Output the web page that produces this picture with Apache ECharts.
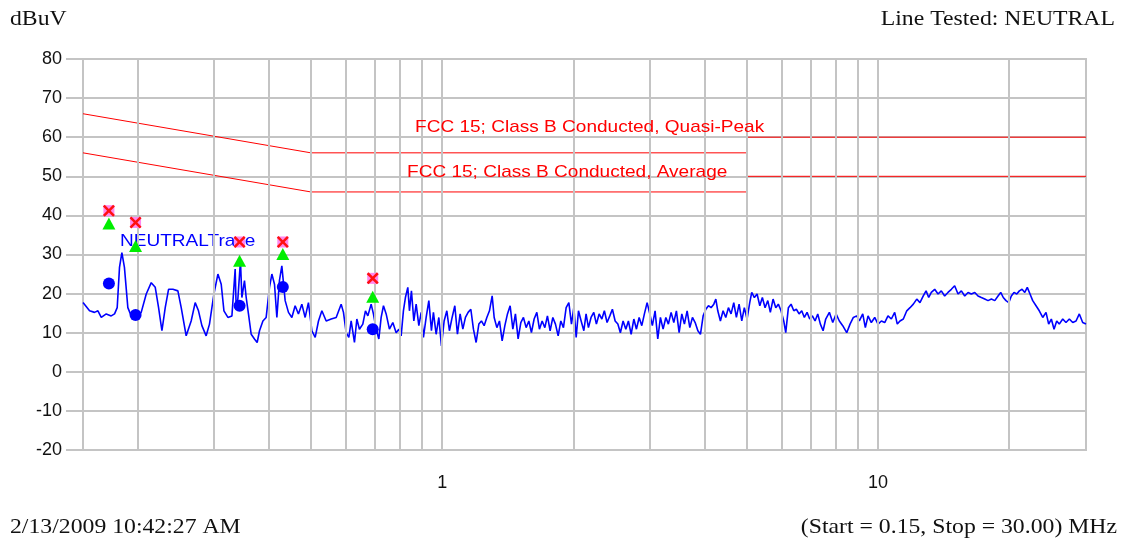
<!DOCTYPE html>
<html>
<head>
<meta charset="utf-8">
<title>Conducted Emissions - NEUTRAL</title>
<script src="https://cdn.jsdelivr.net/npm/echarts@6.0.0/dist/echarts.min.js"></script>
<style>
  html, body { margin: 0; padding: 0; background: #fff; }
  #chart { width: 1123px; height: 540px; }
</style>
</head>
<body>
<div id="chart"></div>
<script>
// scan trace, frequency in MHz and level in dBuV
var traceMHz = [
  0.150, 0.1553, 0.1594, 0.1623, 0.1652, 0.1696, 0.1741, 0.1772, 0.1797, 0.1819,
  0.1842, 0.1867, 0.1901, 0.1935, 0.1987, 0.2040, 0.2095, 0.2151, 0.2197, 0.2236,
  0.2276, 0.2316, 0.2357, 0.2412, 0.2476, 0.2520, 0.2587, 0.2656, 0.2713, 0.2761,
  0.2811, 0.2875, 0.2926, 0.2995, 0.3059, 0.3113, 0.3158, 0.3225, 0.3294, 0.3351,
  0.3369, 0.3399, 0.3446, 0.3472, 0.3520, 0.3552, 0.3595, 0.3647, 0.3711, 0.3764,
  0.3811, 0.3880, 0.3947, 0.4017, 0.4068, 0.4125, 0.4177, 0.4234, 0.4288, 0.4364,
  0.4441, 0.4521, 0.4600, 0.4681, 0.4766, 0.4850, 0.4935, 0.5025, 0.5114, 0.5204,
  0.5298, 0.5420, 0.5565, 0.5714, 0.5866, 0.5938, 0.6023, 0.6109, 0.6184, 0.6293,
  0.6373, 0.6460, 0.6577, 0.6669, 0.6754, 0.6873, 0.6956, 0.7057, 0.7158, 0.7246,
  0.7335, 0.7440, 0.7570, 0.7707, 0.7843, 0.7956, 0.8053, 0.8150, 0.8237, 0.8342,
  0.8414, 0.8503, 0.8611, 0.8718, 0.8842, 0.8952, 0.9060, 0.9190, 0.9322, 0.9451,
  0.9550, 0.9688, 0.9827, 0.9963, 1.0106, 1.0251, 1.0393, 1.0542, 1.0693, 1.0842,
  1.0997, 1.1156, 1.1310, 1.1471, 1.1637, 1.1798, 1.1967, 1.2140, 1.2307, 1.2484,
  1.2664, 1.2841, 1.3025, 1.3164, 1.3353, 1.3536, 1.3731, 1.3928, 1.4122, 1.4322,
  1.4529, 1.4728, 1.4939, 1.5154, 1.5365, 1.5586, 1.5810, 1.6027, 1.6257, 1.6491,
  1.6720, 1.6960, 1.7204, 1.7440, 1.7691, 1.7946, 1.8196, 1.8458, 1.8719, 1.8980,
  1.9253, 1.9530, 1.9802, 2.005, 2.030, 2.055, 2.084, 2.114, 2.139, 2.166,
  2.196, 2.228, 2.259, 2.292, 2.325, 2.356, 2.390, 2.425, 2.458, 2.494,
  2.530, 2.564, 2.601, 2.639, 2.675, 2.714, 2.753, 2.791, 2.831, 2.871,
  2.911, 2.953, 2.995, 3.036, 3.080, 3.124, 3.168, 3.213, 3.260, 3.304,
  3.352, 3.400, 3.447, 3.497, 3.547, 3.596, 3.648, 3.700, 3.752, 3.806,
  3.861, 3.914, 3.970, 4.027, 4.083, 4.140, 4.200, 4.245, 4.289, 4.349,
  4.411, 4.474, 4.537, 4.601, 4.667, 4.732, 4.800, 4.869, 4.935, 5.006,
  5.078, 5.132, 5.204, 5.279, 5.355, 5.428, 5.506, 5.586, 5.662, 5.744,
  5.827, 5.906, 5.991, 6.077, 6.142, 6.228, 6.317, 6.408, 6.496, 6.590,
  6.683, 6.776, 6.874, 6.971, 7.069, 7.170, 7.273, 7.375, 7.481, 7.586,
  7.733, 7.873, 8.012, 8.152, 8.299, 8.476, 8.626, 8.778, 8.936, 9.060,
  9.224, 9.352, 9.487, 9.652, 9.827, 10.00, 10.18, 10.36, 10.54, 10.73,
  10.92, 11.07, 11.23, 11.43, 11.64, 11.84, 12.05, 12.27, 12.48, 12.70,
  12.89, 13.07, 13.25, 13.49, 13.73, 13.97, 14.22, 14.47, 14.73, 14.99,
  15.26, 15.53, 15.81, 16.09, 16.37, 16.67, 16.96, 17.26, 17.57, 17.88,
  18.20, 18.53, 18.85, 19.12, 19.38, 19.66, 19.95, 20.22, 20.51, 20.81,
  21.10, 21.40, 21.71, 22.00, 22.32, 22.64, 23.04, 23.44, 23.87, 24.29,
  24.63, 24.98, 25.34, 25.70, 26.05, 26.53, 26.99, 27.47, 27.97, 28.46,
  28.96, 29.48, 30.00
];
var traceDbuv = [
  17.7, 15.6, 15.2, 15.6, 13.9, 14.8, 14.3, 14.8, 16.4, 26.7,
  30.5, 26.7, 16.4, 14.3, 13.5, 15.2, 19.9, 22.8, 21.6, 16.4,
  10.5, 16.4, 21.1, 21.1, 20.7, 16.4, 9.2, 13.0, 17.7, 15.6,
  11.8, 9.2, 12.2, 19.9, 25.0, 22.4, 15.6, 13.9, 14.3, 26.3,
  16.4, 18.6, 28.4, 19.0, 23.3, 19.0, 14.8, 9.6, 8.4, 7.5,
  10.5, 13.0, 13.9, 21.6, 25.0, 22.4, 13.9, 23.3, 27.1, 18.2,
  15.2, 13.9, 16.9, 14.8, 17.3, 13.9, 17.7, 10.5, 8.8, 13.0,
  15.6, 13.0, 13.5, 13.9, 17.3, 15.2, 10.0, 8.8, 13.0, 7.5,
  13.5, 10.9, 12.2, 15.6, 14.3, 17.3, 14.8, 10.9, 8.4, 13.9,
  16.9, 14.8, 10.9, 12.6, 10.0, 10.9, 9.2, 15.6, 19.0, 21.6,
  15.6, 20.7, 13.0, 17.3, 11.8, 15.2, 8.8, 13.9, 18.2, 10.5,
  15.2, 9.6, 13.9, 6.6, 13.0, 15.6, 10.5, 13.9, 16.9, 9.6,
  14.8, 10.9, 13.9, 15.2, 16.0, 10.9, 7.5, 12.2, 13.0, 11.8,
  13.9, 15.6, 19.4, 13.9, 11.3, 13.0, 7.9, 11.8, 14.8, 16.9,
  10.9, 14.8, 8.4, 12.6, 13.9, 11.3, 13.0, 10.0, 13.5, 15.2,
  10.9, 13.0, 11.3, 14.3, 10.5, 13.9, 12.2, 9.2, 13.0, 11.3,
  16.4, 17.7, 12.2, 16.4, 8.8, 15.6, 13.0, 10.5, 14.8, 11.3,
  13.9, 15.2, 12.2, 14.8, 13.5, 15.6, 12.6, 14.3, 16.0, 13.0,
  12.2, 10.0, 13.0, 10.9, 13.0, 9.6, 13.5, 10.9, 13.9, 11.8,
  14.8, 17.7, 14.8, 11.8, 15.6, 8.4, 13.9, 10.9, 13.9, 12.2,
  15.2, 12.6, 15.6, 10.0, 14.8, 12.2, 15.6, 11.3, 13.9, 12.6,
  10.5, 9.6, 14.3, 16.0, 16.9, 16.4, 17.3, 18.6, 15.6, 13.0,
  15.6, 13.9, 16.4, 14.8, 17.7, 13.9, 17.3, 13.0, 16.4, 13.5,
  17.7, 20.3, 19.0, 19.9, 16.9, 19.0, 16.4, 18.2, 15.2, 18.6,
  16.4, 17.3, 15.6, 13.0, 10.0, 16.4, 17.3, 15.6, 16.0, 14.8,
  15.6, 13.9, 15.2, 13.5, 14.3, 13.0, 14.8, 12.2, 10.5, 13.5,
  15.2, 12.6, 14.8, 13.0, 11.8, 10.0, 12.2, 13.9, 14.3, 13.0,
  14.8, 11.3, 14.3, 12.6, 13.9, 12.2, 13.0, 12.6, 14.3, 13.5,
  15.2, 12.2, 13.0, 13.5, 15.6, 16.4, 17.3, 18.6, 17.7, 19.4,
  20.7, 19.0, 20.3, 21.1, 19.9, 20.7, 19.4, 20.3, 21.1, 22.0,
  19.9, 20.7, 19.4, 20.3, 19.9, 20.3, 19.4, 19.0, 18.6, 18.2,
  18.6, 18.2, 19.4, 20.3, 19.0, 18.2, 17.7, 19.4, 20.3, 19.9,
  20.7, 21.1, 20.3, 21.6, 19.9, 18.2, 16.9, 15.6, 13.9, 15.2,
  12.2, 13.5, 10.9, 13.0, 12.2, 13.5, 12.6, 13.5, 12.6, 13.0,
  14.8, 12.6, 12.2
];

// final measurements at the flagged frequencies
var peakMHz = [0.172, 0.198, 0.343, 0.431, 0.693];
var qpDbuv = [41.2, 38.2, 33.2, 33.2, 23.9];
var pkDbuv = [37.9, 32.2, 28.4, 30.1, 19.2];
var avDbuv = [22.6, 14.5, 16.9, 21.7, 10.9];

// FCC 15 class B limits
var qpLimitMHz = [0.15, 0.5, 5, 5, 30];
var qpLimitDbuv = [66, 56, 56, 60, 60];
var avLimitMHz = [0.15, 0.5, 5, 5, 30];
var avLimitDbuv = [56, 46, 46, 50, 50];

var gridMHz = [0.2, 0.3, 0.4, 0.5, 0.6, 0.7, 0.8, 0.9, 1, 2, 3, 4, 5, 6, 7, 8, 9, 10, 20];
var labelMHz = [1, 10];

function pairs(xs, ys) {
  return xs.map(function (x, i) { return [x, ys[i]]; });
}

var gray = '#c4c4c4';
var sans = '"Liberation Sans", Arial, sans-serif';
var serif = '"Liberation Serif", "Times New Roman", serif';
var xMark = 'path://M0,1.5L1.5,0L5,3.5L8.5,0L10,1.5L6.5,5L10,8.5L8.5,10L5,6.5L1.5,10L0,8.5L3.5,5Z';

function txt(text, x, y, align, family, size, color, sx, z) {
  return {
    type: 'text', x: x, y: y, scaleX: sx, z: z || 10,
    style: { text: text, fontFamily: family, fontSize: size, fill: color, align: align, verticalAlign: 'middle' }
  };
}

var chart = echarts.init(document.getElementById('chart'));
chart.setOption({
  animation: false,
  grid: { left: 83, right: 37, top: 59, bottom: 90, show: true, borderColor: gray, borderWidth: 2 },
  xAxis: {
    type: 'log', logBase: 10, min: 0.15, max: 30,
    axisLine: { show: true, lineStyle: { color: gray, width: 2 } },
    axisTick: { show: true, customValues: labelMHz, length: 16, lineStyle: { color: gray, width: 2 } },
    axisLabel: { customValues: labelMHz, color: '#111', fontSize: 18, fontFamily: sans, margin: 24 },
    splitLine: { show: false }
  },
  yAxis: {
    type: 'value', min: -20, max: 80, interval: 10,
    axisLine: { show: true, lineStyle: { color: gray, width: 2 } },
    axisTick: { show: true, length: 17, lineStyle: { color: gray, width: 2 } },
    axisLabel: { color: '#111', fontSize: 18, fontFamily: sans, margin: 21 },
    splitLine: { show: true, lineStyle: { color: gray, width: 2 } }
  },
  graphic: [
    txt('dBuV', 10, 19, 'left', serif, 21, '#111', 1.13),
    txt('Line Tested: NEUTRAL', 1115, 19, 'right', serif, 21, '#111', 1.13),
    txt('2/13/2009 10:42:27 AM', 10, 527, 'left', serif, 21, '#111', 1.13),
    txt('(Start = 0.15, Stop = 30.00) MHz', 1117, 527, 'right', serif, 21, '#111', 1.13),
    txt('FCC 15; Class B Conducted, Quasi-Peak', 415, 127, 'left', sans, 17, '#ff0000', 1.12),
    txt('FCC 15; Class B Conducted, Average', 407, 172, 'left', sans, 17, '#ff0000', 1.12),
    txt('NEUTRALTrace', 120, 241, 'left', sans, 17, '#0000ff', 1.12, 1)
  ],
  series: [
    {
      type: 'line', data: [], silent: true, z: 1,
      markLine: {
        silent: true, symbol: 'none', animation: false,
        label: { show: false },
        lineStyle: { color: gray, width: 2, type: 'solid' },
        data: gridMHz.map(function (f) { return { xAxis: f }; })
      }
    },
    {
      name: 'QP limit', type: 'line', data: pairs(qpLimitMHz, qpLimitDbuv),
      showSymbol: false, z: 3, lineStyle: { color: '#ff0000', width: 1 }
    },
    {
      name: 'AV limit', type: 'line', data: pairs(avLimitMHz, avLimitDbuv),
      showSymbol: false, z: 3, lineStyle: { color: '#ff0000', width: 1 }
    },
    {
      name: 'NEUTRALTrace', type: 'line', data: pairs(traceMHz, traceDbuv),
      showSymbol: false, z: 4, lineStyle: { color: '#0000ff', width: 1.6 }
    },
    {
      type: 'scatter', data: pairs(peakMHz, avDbuv), z: 5,
      symbol: 'circle', symbolSize: 12, itemStyle: { color: '#0000ff', opacity: 1 }
    },
    {
      type: 'scatter', data: pairs(peakMHz, pkDbuv), z: 5,
      symbol: 'triangle', symbolSize: [13, 12], itemStyle: { color: '#00ee00', opacity: 1 }
    },
    {
      type: 'scatter', data: pairs(peakMHz, qpDbuv), z: 5,
      symbol: 'rect', symbolSize: 11, itemStyle: { color: '#ff88ee', opacity: 1 }
    },
    {
      type: 'scatter', data: pairs(peakMHz, qpDbuv), z: 6,
      symbol: xMark, symbolSize: 12, itemStyle: { color: '#ff1010', opacity: 1 }
    }
  ]
});
</script>
</body>
</html>
